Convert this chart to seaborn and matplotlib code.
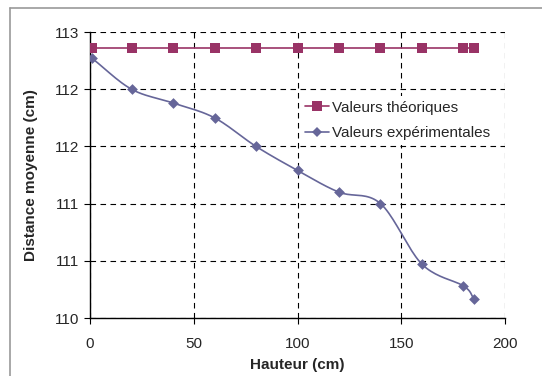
import numpy as np
import pandas as pd
import matplotlib
matplotlib.use("Agg")
import matplotlib.pyplot as plt
import seaborn as sns
from matplotlib.lines import Line2D
from matplotlib.ticker import FuncFormatter

# Data
hauteur = [1, 20, 40, 60, 80, 100, 120, 140, 160, 180, 185]
theorique = [112.36] * len(hauteur)
experimental = [112.27, 112.0, 111.88, 111.75, 111.5, 111.29, 111.10, 111.0, 110.47, 110.28, 110.17]
y_ticks = [110, 110.5, 111, 111.5, 112, 112.5]
x_ticks = [0, 50, 100, 150, 200]

col_theo = "#993366"
col_exp = "#666699"

sns.set_style("white")
plt.rcParams["font.family"] = ["Liberation Sans", "DejaVu Sans"]
plt.rcParams["font.size"] = 11

df = pd.DataFrame({"Hauteur": hauteur, "Theo": theorique, "Exp": experimental})

fig = plt.figure(figsize=(5.42, 3.76), dpi=100)
ax = fig.add_axes([90 / 542, 1 - 318 / 376, 415 / 542, 286 / 376])

# outer chart border (Excel style)
fig.add_artist(plt.Line2D([10 / 542, 1], [1 - 8 / 376, 1 - 8 / 376], color="#999999", lw=1.2))
fig.add_artist(plt.Line2D([10 / 542, 10 / 542], [0, 1 - 8 / 376], color="#999999", lw=1.2))


def smooth(xs, ys, n=20):
    # Catmull-Rom curve in normalised units, like Excel's smoothed line
    px = np.array(xs, float) / 200.0
    py = (np.array(ys, float) - 110) / 2.5 * (286 / 415)
    P = np.column_stack([px, py])
    P = np.vstack([P[0] * 2 - P[1], P, P[-1] * 2 - P[-2]])
    out = []
    for i in range(1, len(P) - 2):
        p0, p1, p2, p3 = P[i - 1], P[i], P[i + 1], P[i + 2]
        for t in np.linspace(0, 1, n, endpoint=False):
            out.append(0.5 * ((2 * p1) + (-p0 + p2) * t + (2 * p0 - 5 * p1 + 4 * p2 - p3) * t ** 2
                              + (-p0 + 3 * p1 - 3 * p2 + p3) * t ** 3))
    out.append(P[-2])
    out = np.array(out)
    return out[:, 0] * 200.0, out[:, 1] / (286 / 415) * 2.5 + 110


sx, sy = smooth(hauteur, experimental)
ax.plot(sx, sy, color=col_exp, lw=1.2, zorder=3)
sns.scatterplot(data=df, x="Hauteur", y="Exp", marker="D", s=30, color=col_exp,
                edgecolor=col_exp, linewidth=0, ax=ax, zorder=4)
sns.lineplot(data=df, x="Hauteur", y="Theo", color=col_theo, lw=1.2, marker="s",
             markersize=6.5, markeredgewidth=0, ax=ax, zorder=4)

ax.set_xlim(0, 200)
ax.set_ylim(110, 112.5)
ax.set_xticks(x_ticks)
ax.set_yticks(y_ticks)
ax.yaxis.set_major_formatter(FuncFormatter(lambda v, p: str(int(np.floor(v + 0.5)))))
ax.grid(True, color="black", linestyle=(0, (5, 4)), lw=0.8)
for s in ["top", "right"]:
    ax.spines[s].set_visible(False)
for s in ["left", "bottom"]:
    ax.spines[s].set_color("black")
    ax.spines[s].set_linewidth(1.0)
ax.tick_params(axis="both", direction="out", length=4, width=0.8, color="black",
               labelsize=11, pad=4, bottom=True, left=True)
ax.tick_params(axis="x", pad=10)
ax.set_xlabel("Hauteur (cm)", fontweight="bold", fontsize=11, labelpad=5)
ax.set_ylabel("Distance moyenne (cm)", fontweight="bold", fontsize=11, labelpad=12)

handles = [
    Line2D([], [], color=col_theo, marker="s", markersize=6.5, markeredgewidth=0, lw=1.2),
    Line2D([], [], color=col_exp, marker="D", markersize=5, markeredgewidth=0, lw=1.2),
]
leg = ax.legend(handles, ["Valeurs théoriques", "Valeurs expérimentales"], frameon=True,
                loc="upper left", bbox_to_anchor=((300 - 90) / 415, (318 - 96) / 286),
                borderaxespad=0, borderpad=0.3, handlelength=1.6, handletextpad=0.2,
                labelspacing=0.78, fontsize=11, fancybox=False, framealpha=1)
leg.get_frame().set_facecolor("white")
leg.get_frame().set_edgecolor("none")

fig.savefig("out.png", dpi=100, facecolor="white")
